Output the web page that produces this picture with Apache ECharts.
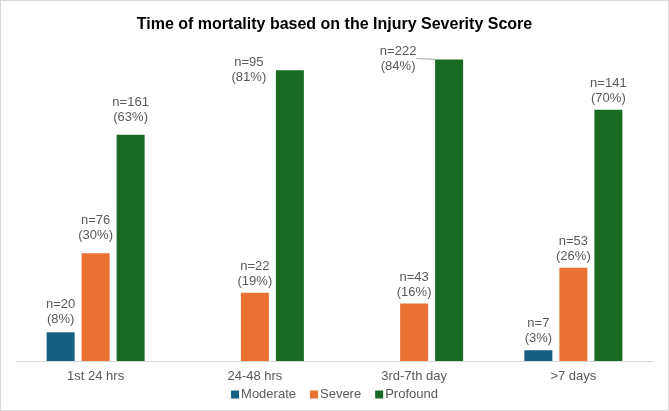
<!DOCTYPE html>
<html>
<head>
<meta charset="utf-8">
<script src="https://cdn.jsdelivr.net/npm/echarts@6/dist/echarts.min.js"></script>
<style>
html,body{margin:0;padding:0;background:#fff;}
#c{width:669px;height:411px;box-sizing:border-box;border:1px solid #d9d9d9;}
</style>
</head>
<body>
<div id="c"></div>
<script>
var categories = ['1st 24 hrs', '24-48 hrs', '3rd-7th day', '>7 days'];
var seriesNames = ['Moderate', 'Severe', 'Profound'];
var moderatePct = [8, null, null, 3];
var severePct = [30, 19, 16, 26];
var profoundPct = [63, 81, 84, 70];
var moderateN = [20, null, null, 7];
var severeN = [76, 22, 43, 53];
var profoundN = [161, 95, 222, 141];
var colors = ['#156082', '#E97132', '#196B24'];

var FONT = '"Liberation Sans", Arial, sans-serif';

function makeData(pcts, ns, special) {
  return pcts.map(function (v, i) {
    var item = { value: v, n: ns[i] };
    if (special && special[i]) {
      item.label = special[i].label;
      if (special[i].labelLine) item.labelLine = special[i].labelLine;
    }
    return item;
  });
}

function fmt(p) {
  if (p.value == null) return '';
  return 'n=' + p.data.n + '\n(' + p.value + '%)';
}

var labelBase = {
  show: true,
  position: 'top',
  distance: 4,
  color: '#595959',
  fontFamily: FONT,
  fontSize: 13,
  lineHeight: 15,
  formatter: fmt
};

var moderateSpecial = {
  0: { label: { distance: 5 } }
};
var severeSpecial = {
  0: { label: { distance: 10 } }
};
var profoundSpecial = {
  0: { label: { distance: 10 } },
  1: { label: { position: [-27, 0], align: 'center', verticalAlign: 'middle' } },
  2: { label: { position: [-37, -1], align: 'center', verticalAlign: 'middle' },
       labelLine: { show: true, lineStyle: { color: '#a6a6a6', width: 1 } } }
};

var pctArrays = [moderatePct, severePct, profoundPct];
var nArrays = [moderateN, severeN, profoundN];
var specials = [moderateSpecial, severeSpecial, profoundSpecial];

var series = seriesNames.map(function (name, k) {
  return {
    name: name,
    type: 'bar',
    barWidth: 28,
    barGap: '25%',
    itemStyle: { color: colors[k] },
    label: labelBase,
    data: makeData(pctArrays[k], nArrays[k], specials[k])
  };
});

var chart = echarts.init(document.getElementById('c'));
chart.setOption({
  animation: false,
  title: {
    text: 'Time of mortality based on the Injury Severity Score',
    left: 'center',
    top: 11,
    textStyle: { fontFamily: FONT, fontSize: 16, fontWeight: 'bold', color: '#000' }
  },
  legend: {
    data: seriesNames,
    bottom: 4,
    left: 'center',
    icon: 'rect',
    itemWidth: 8,
    itemHeight: 8,
    itemGap: 14,
    textStyle: { fontFamily: FONT, fontSize: 13, color: '#595959', padding: [0, 0, 0, -3] }
  },
  grid: { left: 15, right: 15, top: 1, bottom: 49 },
  xAxis: {
    type: 'category',
    data: categories,
    axisLine: { lineStyle: { color: '#d9d9d9' } },
    axisTick: { show: false },
    axisLabel: { color: '#595959', fontFamily: FONT, fontSize: 13, margin: 9 }
  },
  yAxis: {
    type: 'value',
    min: 0,
    max: 100,
    show: false,
    splitLine: { show: false }
  },
  series: series
});
</script>
</body>
</html>
